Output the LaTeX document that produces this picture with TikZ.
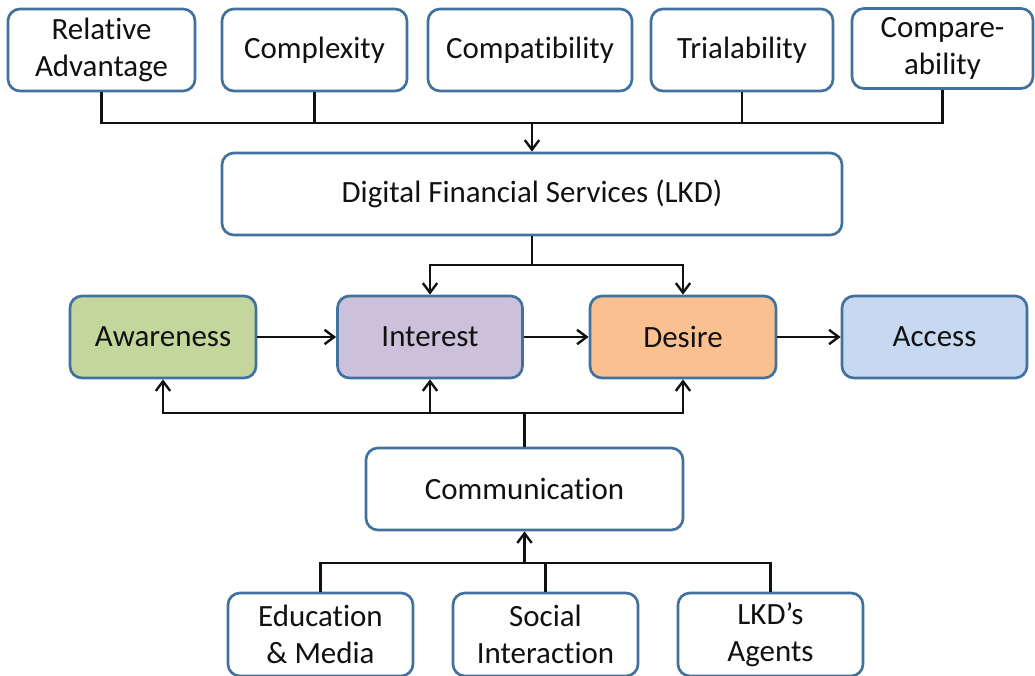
\documentclass[tikz,border=0pt]{standalone}
\usepackage{fontspec}
\setmainfont[Ligatures={NoCommon}]{Carlito}
\usepackage{tikz}
\usetikzlibrary{arrows.meta}
\definecolor{edge}{HTML}{41719C}
\definecolor{ink}{HTML}{111111}
\definecolor{green}{HTML}{C3D69B}
\definecolor{lilac}{HTML}{CCC1DA}
\definecolor{peach}{HTML}{FAC090}
\definecolor{sky}{HTML}{C6D9F1}
\tikzset{
  box/.style={draw=edge, line width=1.9pt, rounded corners=0.3cm, fill=white,
    minimum width=4.625cm, minimum height=2.05cm, align=center, text=ink,
    font=\fontsize{22}{26.5}\selectfont, inner sep=0pt},
  line/.style={draw=ink, line width=1.7pt},
  arr/.style={line, -{Straight Barb[length=2.4mm,width=3.6mm]}}
}
\begin{document}
\begin{tikzpicture}[x=0.025cm, y=-0.025cm]
  \useasboundingbox (0,0) rectangle (1035,676);

  % top row
  \node[box, minimum width=4.675cm] (rel) at (101.5,50) {Relative\\Advantage};
  \node[box] (cplx) at (314.5,50) {Complexity};
  \node[box, minimum width=5.1cm] (cpat) at (530,50) {Compatibility};
  \node[box, minimum width=4.55cm] (trial) at (742,50) {Trialability};
  \node[box, minimum width=4.525cm, minimum height=2cm] (cmpb) at (942.5,48.5) {Compare-\\ability};

  \node[box, minimum width=15.5cm] (dfs) at (532,194) {Digital Financial Services (LKD)};

  % stages
  \node[box, fill=green, minimum width=4.65cm] (awa) at (163,337) {Awareness};
  \node[box, fill=lilac] (int) at (430,337) {Interest};
  \node[box, fill=peach, minimum width=4.65cm] (des) at (683,337) {Desire};
  \node[box, fill=sky] (acc) at (934.5,337) {Access};

  \node[box, minimum width=7.925cm] (comm) at (524.5,489) {Communication};

  % sources
  \node[box, minimum height=2.075cm] (edu) at (320.5,634.5) {Education\\\& Media};
  \node[box, minimum height=2.075cm] (soc) at (545.5,634.5) {Social\\Interaction};
  \node[box, minimum height=2.075cm] (agt) at (770.5,634.5) {LKD’s\\Agents};

  \coordinate (topbus) at (532,123);
  \coordinate (split) at (532,265);
  \coordinate (midbus) at (524.5,413);
  \coordinate (lowbus) at (524.5,563);

  \draw[line] (rel.south) |- (topbus) -| (cmpb.south);
  \draw[line] (cplx.south) -- (cplx.south |- topbus);
  \draw[line] (trial.south) -- (trial.south |- topbus);
  \draw[arr] (topbus) -- (dfs.north);

  \draw[line] (dfs.south) -- (split);
  \draw[arr] (split) -| (int.north);
  \draw[arr] (split) -| (des.north);

  \draw[arr] (awa.east) -- (int.west);
  \draw[arr] (int.east) -- (des.west);
  \draw[arr] (des.east) -- (acc.west);

  \draw[line] (comm.north) -- (midbus);
  \draw[arr] (midbus) -| (awa.south);
  \draw[arr] (midbus) -| (des.south);
  \draw[arr] (int.south |- midbus) -- (int.south);

  \draw[line] (edu.north) |- (lowbus) -| (agt.north);
  \draw[line] (soc.north) -- (soc.north |- lowbus);
  \draw[arr] (lowbus) -- (comm.south);
\end{tikzpicture}
\end{document}
